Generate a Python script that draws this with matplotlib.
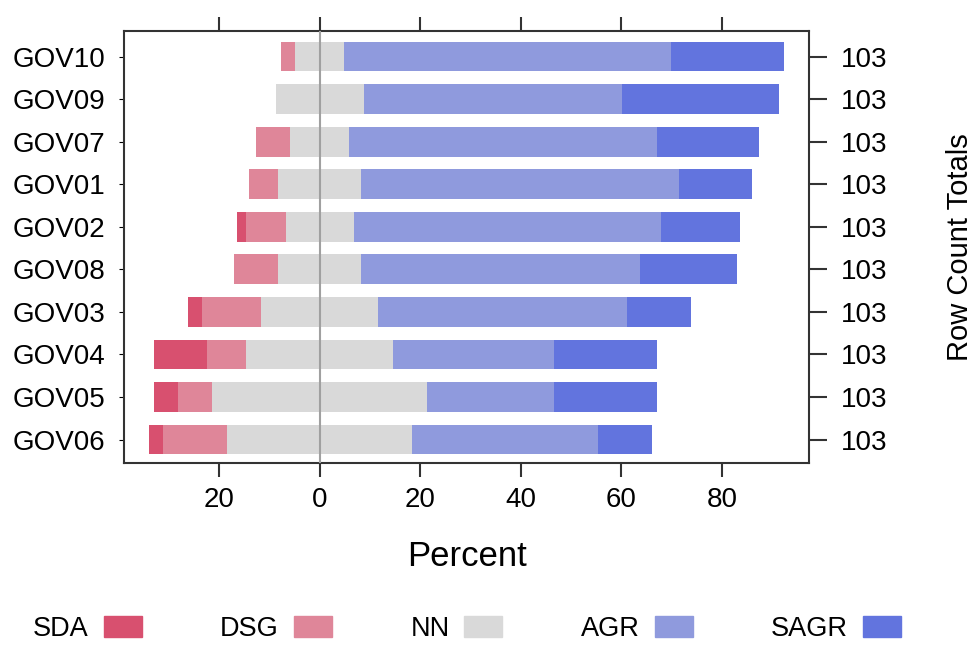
import matplotlib as mpl
mpl.use('Agg')
import matplotlib.pyplot as plt
import numpy as np

plt.rcParams['font.family'] = ['Liberation Sans', 'DejaVu Sans']

# questions, top of chart first
questions = ['GOV10', 'GOV09', 'GOV07', 'GOV01', 'GOV02',
             'GOV08', 'GOV03', 'GOV04', 'GOV05', 'GOV06']
levels = ['SDA', 'DSG', 'NN', 'AGR', 'SAGR']
colors = ['#D8506F', '#DF8699', '#D9D9D9', '#8F9ADD', '#6274DE']

# response counts per question (row total 103)
sda  = [0, 0, 0, 0, 2, 0, 3, 11, 5, 3]
dsg  = [3, 0, 7, 6, 8, 9, 12, 8, 7, 13]
nn   = [10, 18, 12, 17, 14, 17, 24, 30, 44, 38]
agr  = [67, 53, 63, 65, 63, 57, 51, 33, 26, 38]
sagr = [23, 32, 21, 15, 16, 20, 13, 21, 21, 11]

counts = np.array([sda, dsg, nn, agr, sagr], dtype=float)
totals = counts.sum(axis=0)
pct = counts / totals * 100

xticks = [-20, 0, 20, 40, 60, 80]

fig = plt.figure(figsize=(9.79, 6.48), dpi=100)
ax = fig.add_axes([0.1267, 0.2855, 0.6997, 0.6667])

y = np.arange(len(questions))[::-1]
h = 0.7

# negative side: half of NN plus disagree levels
left = -pct[2] / 2
ax.barh(y, pct[2], left=left, height=h, color=colors[2], zorder=2)
ax.barh(y, pct[1], left=left - pct[1], height=h, color=colors[1], zorder=2)
ax.barh(y, pct[0], left=left - pct[1] - pct[0], height=h, color=colors[0], zorder=2)
# positive side
right = pct[2] / 2
ax.barh(y, pct[3], left=right, height=h, color=colors[3], zorder=2)
ax.barh(y, pct[4], left=right + pct[3], height=h, color=colors[4], zorder=2)

ax.axvline(0, color='#A0A0A0', lw=1.5, zorder=3)

ax.set_xlim(-38.9, 97.3)
ax.set_ylim(-0.55, 9.6)

ax.set_xticks(xticks)
ax.set_xticklabels([str(abs(t)) for t in xticks])
ax.set_yticks(y)
ax.set_yticklabels(questions)

for s in ax.spines.values():
    s.set_color('#333333')
    s.set_linewidth(1.5)

ax.tick_params(axis='x', which='both', top=True, labeltop=False, direction='out',
               length=10, width=1.5, color='#333333', labelsize=20, pad=7)
ax.tick_params(axis='y', left=False, labelleft=True, labelsize=20, pad=10)

ax2 = ax.twinx()
ax2.set_ylim(ax.get_ylim())
ax2.set_yticks(y)
ax2.set_yticklabels([str(int(t)) for t in totals])
ax2.tick_params(axis='y', direction='out', length=13, width=1.5, color='#333333',
                labelsize=20, pad=10)
for s in ax2.spines.values():
    s.set_visible(False)
ax2.set_ylabel('Row Count Totals', fontsize=21, labelpad=42)

ax.set_xlabel('Percent', fontsize=25, labelpad=20)

handles = [mpl.patches.Patch(color=c) for c in colors]
fig.legend(handles, levels, loc='lower center', bbox_to_anchor=(0.477, -0.028),
           ncol=5, frameon=False, markerfirst=False, fontsize=19.5,
           handlelength=1.4, handleheight=0.85, handletextpad=0.55,
           columnspacing=2.9)

fig.savefig('out.png', dpi=100)
